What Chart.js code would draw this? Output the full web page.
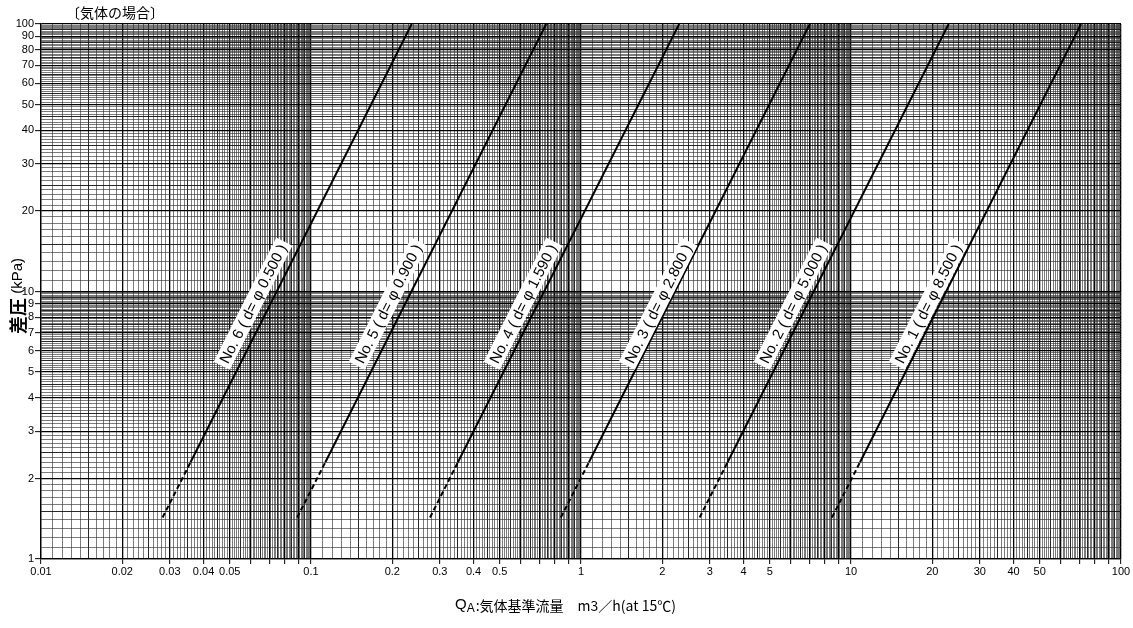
<!DOCTYPE html>
<html>
<head>
<meta charset="utf-8">
<script src="https://cdn.jsdelivr.net/npm/chart.js@4/dist/chart.umd.min.js"></script>
<style>
  html, body { margin: 0; padding: 0; background: #fff; }
  #wrap { width: 1133px; height: 628px; }
</style>
</head>
<body>
<div id="wrap"><canvas id="chart" width="1133" height="628"></canvas></div>
<script>
// ---- data ----
const lineNames = [
  'No. 6 ( d= φ 0.500 )',
  'No. 5 ( d= φ 0.900 )',
  'No. 4 ( d= φ 1.590 )',
  'No. 3 ( d= φ 2.800 )',
  'No. 2 ( d= φ 5.000 )',
  'No. 1 ( d= φ 8.500 )'
];
// pressure points (kPa): start of dashed part, end of dashed part, top
const dpStart = 1.43;
const dpDashEnd = 2.3;
const dpTop = 100;
// flow (m3/h) of each line at those pressures
const qStart   = [0.0282, 0.0889, 0.276, 0.842, 2.75, 8.50];
const qDashEnd = [0.0358, 0.113, 0.350, 1.07, 3.49, 10.8];
const qTop     = [0.236, 0.743, 2.31, 7.04, 23.0, 71.1];
// where the rotated labels sit
const labelQ = [0.061, 0.193, 0.61, 1.93, 6.1, 19.3];
const labelDp = 9.0;

const xTickLabels = [0.01, 0.02, 0.03, 0.04, 0.05, 0.1, 0.2, 0.3, 0.4, 0.5, 1, 2, 3, 4, 5, 10, 20, 30, 40, 50, 100];
const yTickLabels = [1, 2, 3, 4, 5, 6, 7, 8, 9, 10, 20, 30, 40, 50, 60, 70, 80, 90, 100];

// log paper: lines every 0.1 of the mantissa
function makeGrid(firstDecade, lastDecade) {
  const vals = [];
  const major = new Set();
  const half = new Set();
  for (let d = firstDecade; d <= lastDecade; d++) {
    for (let m = 10; m <= 99; m++) {
      const v = Number((m * Math.pow(10, d - 1)).toPrecision(6));
      vals.push(v);
      if (m % 10 === 0) major.add(v);
      else if (m % 5 === 0) half.add(v);
    }
  }
  const last = Number(Math.pow(10, lastDecade + 1).toPrecision(6));
  vals.push(last);
  major.add(last);
  return { vals, major, half };
}

const xGrid = makeGrid(-2, 1);
const yGrid = makeGrid(0, 1);

function gridColor(g) {
  return ctx => {
    const v = ctx.tick && ctx.tick.value;
    if (g.major.has(v)) return '#000';
    if (g.half.has(v)) return '#111';
    return '#333';
  };
}
function gridWidth(g) {
  return ctx => {
    const v = ctx.tick && ctx.tick.value;
    if (g.major.has(v)) return 1.3;
    if (g.half.has(v)) return 0.9;
    return 0.65;
  };
}
function tickMark(g) {
  return ctx => (g.major.has(ctx.tick && ctx.tick.value) ? '#000' : 'rgba(0,0,0,0)');
}

const datasets = lineNames.map((name, i) => ({
  label: name,
  data: [
    { x: qStart[i], y: dpStart },
    { x: qDashEnd[i], y: dpDashEnd },
    { x: qTop[i], y: dpTop }
  ],
  borderColor: '#000',
  borderWidth: 2,
  pointRadius: 0,
  fill: false,
  tension: 0,
  segment: {
    borderDash: ctx => (ctx.p1.parsed.y <= dpDashEnd ? [5, 3] : undefined)
  }
}));

const textPlugin = {
  id: 'textPlugin',
  afterDatasetsDraw(chart) {
    const ctx = chart.ctx;
    const xs = chart.scales.x;
    const ys = chart.scales.y;
    ctx.save();
    ctx.font = '15px "Liberation Sans", Arial, sans-serif';
    ctx.textAlign = 'center';
    ctx.textBaseline = 'middle';
    lineNames.forEach((name, i) => {
      const x0 = xs.getPixelForValue(qStart[i]);
      const y0 = ys.getPixelForValue(dpStart);
      const x1 = xs.getPixelForValue(qTop[i]);
      const y1 = ys.getPixelForValue(dpTop);
      const ang = Math.atan2(y1 - y0, x1 - x0);
      const px = xs.getPixelForValue(labelQ[i]);
      const py = ys.getPixelForValue(labelDp);
      const w = ctx.measureText(name).width;
      ctx.save();
      ctx.translate(px, py);
      ctx.rotate(ang);
      ctx.fillStyle = '#fff';
      ctx.fillRect(-w / 2 - 4, -9, w + 8, 18);
      ctx.fillStyle = '#000';
      ctx.fillText(name, 0, 1);
      ctx.restore();
    });
    ctx.restore();
  },
  afterDraw(chart) {
    const ctx = chart.ctx;
    ctx.save();
    ctx.fillStyle = '#000';
    ctx.textBaseline = 'middle';

    // top-left note
    ctx.textAlign = 'left';
    ctx.font = '14px "Noto Sans CJK JP", sans-serif';
    ctx.fillText('〔気体の場合〕', 66, 13);

    // y axis title
    ctx.save();
    ctx.translate(18, 296);
    ctx.rotate(-Math.PI / 2);
    ctx.textAlign = 'left';
    const f1 = 'bold 18px "Noto Sans CJK JP", sans-serif';
    const f2 = '15px "Liberation Sans", Arial, sans-serif';
    ctx.font = f1;
    const t1 = '差圧';
    const w1 = ctx.measureText(t1).width;
    ctx.font = f2;
    const t2 = ' (kPa)';
    const w2 = ctx.measureText(t2).width;
    const sx = -(w1 + w2) / 2;
    ctx.font = f1;
    ctx.fillText(t1, sx, 0);
    ctx.font = f2;
    ctx.fillText(t2, sx + w1, 0);
    ctx.restore();

    // x axis title with subscript
    const cy = 606;
    ctx.font = '15px "Liberation Sans", Arial, sans-serif';
    const q = 'Q';
    const wq = ctx.measureText(q).width;
    ctx.font = '12px "Liberation Sans", Arial, sans-serif';
    const a = 'A';
    const wa = ctx.measureText(a).width;
    ctx.font = '14px "Noto Sans CJK JP", sans-serif';
    const rest = ':気体基準流量　m3／h(at 15℃)';
    const wr = ctx.measureText(rest).width;
    let x = 565 - (wq + wa + wr) / 2;
    ctx.font = '15px "Liberation Sans", Arial, sans-serif';
    ctx.fillText(q, x, cy - 1);
    x += wq;
    ctx.font = '12px "Liberation Sans", Arial, sans-serif';
    ctx.fillText(a, x, cy + 3);
    x += wa + 1;
    ctx.font = '14px "Noto Sans CJK JP", sans-serif';
    ctx.fillText(rest, x, cy);
    ctx.restore();
  }
};

new Chart(document.getElementById('chart'), {
  type: 'line',
  data: { datasets },
  options: {
    responsive: false,
    animation: false,
    layout: { padding: { top: 24, right: 12, left: 0, bottom: 0 } },
    plugins: { legend: { display: false }, tooltip: { enabled: false } },
    scales: {
      x: {
        type: 'logarithmic',
        min: 0.01,
        max: 100,
        afterBuildTicks: scale => { scale.ticks = xGrid.vals.map(v => ({ value: v })); },
        afterFit: scale => { scale.height = 69; },
        ticks: {
          autoSkip: false,
          maxRotation: 0,
          minRotation: 0,
          padding: 1,
          color: '#000',
          font: { family: '"Liberation Sans", Arial, sans-serif', size: 11 },
          callback: v => (xTickLabels.includes(v) ? String(v) : '')
        },
        grid: {
          color: gridColor(xGrid),
          lineWidth: gridWidth(xGrid),
          tickColor: tickMark(xGrid),
          tickLength: 5,
          tickWidth: 1
        },
        border: { display: true, color: '#000', width: 1.3 }
      },
      y: {
        type: 'logarithmic',
        min: 1,
        max: 100,
        afterBuildTicks: scale => { scale.ticks = yGrid.vals.map(v => ({ value: v })); },
        afterFit: scale => { scale.width = 41; },
        ticks: {
          autoSkip: false,
          padding: 1,
          color: '#000',
          font: { family: '"Liberation Sans", Arial, sans-serif', size: 11 },
          callback: v => (yTickLabels.includes(v) ? String(v) : '')
        },
        grid: {
          color: gridColor(yGrid),
          lineWidth: gridWidth(yGrid),
          tickColor: tickMark(yGrid),
          tickLength: 6,
          tickWidth: 1
        },
        border: { display: true, color: '#000', width: 1.3 }
      }
    }
  },
  plugins: [textPlugin]
});
</script>
</body>
</html>
